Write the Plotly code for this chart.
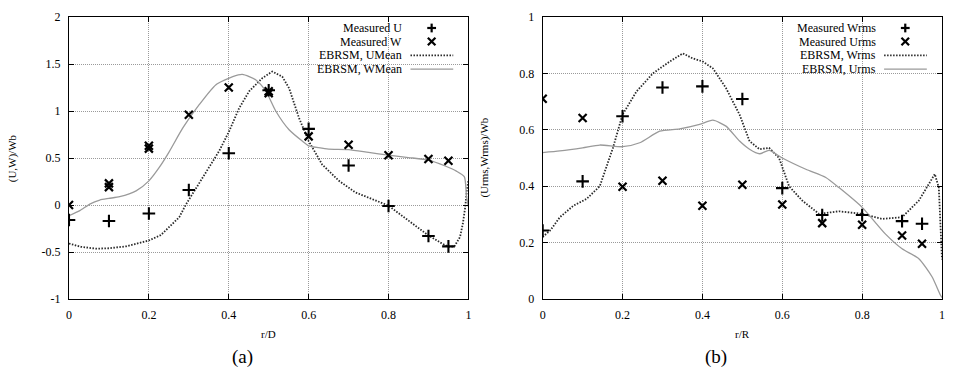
import plotly.graph_objects as go

# ---------------- data: panel (a) ----------------
meas_x = [0, 0.1, 0.2, 0.3, 0.4, 0.5, 0.6, 0.7, 0.8, 0.9, 0.95]
meas_u = [-0.16, -0.17, -0.09, 0.16, 0.55, 1.22, 0.81, 0.42, -0.01, -0.33, -0.44]
meas_w_x = [0, 0.1, 0.1, 0.2, 0.2, 0.3, 0.4, 0.5, 0.5, 0.6, 0.7, 0.8, 0.9, 0.95]
meas_w = [0.0, 0.23, 0.19, 0.63, 0.60, 0.96, 1.25, 1.21, 1.19, 0.73, 0.64, 0.53, 0.49, 0.47]

umean_x = [0, 0.03, 0.068, 0.1, 0.143, 0.2, 0.23, 0.251, 0.276, 0.293, 0.326, 0.351, 0.376,
           0.401, 0.426, 0.451, 0.484, 0.509, 0.534, 0.551, 0.576, 0.6, 0.634, 0.676, 0.717,
           0.759, 0.8, 0.85, 0.9, 0.93, 0.95, 0.965, 0.979, 0.986, 0.992, 0.996, 1.0]
umean_y = [-0.41, -0.445, -0.465, -0.46, -0.44, -0.377, -0.32, -0.236, -0.13, 0.007, 0.236,
           0.41, 0.574, 0.785, 1.03, 1.21, 1.35, 1.42, 1.366, 1.243, 0.925, 0.68, 0.43, 0.257,
           0.134, 0.063, -0.007, -0.166, -0.324, -0.40, -0.445, -0.44, -0.34, -0.2, -0.025, 0.15, 0.26]

wmean_x = [0, 0.027, 0.052, 0.077, 0.1, 0.127, 0.168, 0.2, 0.226, 0.25, 0.285, 0.326, 0.368,
           0.41, 0.434, 0.468, 0.493, 0.518, 0.551, 0.584, 0.6, 0.625, 0.65, 0.7, 0.75, 0.8,
           0.85, 0.9, 0.942, 0.97, 0.99, 0.995, 1.0]
wmean_y = [-0.113, -0.06, 0.01, 0.053, 0.07, 0.088, 0.15, 0.257, 0.40, 0.56, 0.82, 1.067, 1.28,
           1.366, 1.39, 1.33, 1.21, 0.997, 0.80, 0.68, 0.63, 0.61, 0.595, 0.59, 0.56, 0.53,
           0.505, 0.478, 0.415, 0.36, 0.30, 0.1, -0.02]

# ---------------- data: panel (b) ----------------
rms_x = [0, 0.1, 0.2, 0.3, 0.4, 0.5, 0.6, 0.7, 0.8, 0.9, 0.95]
meas_wrms = [0.243, 0.417, 0.648, 0.75, 0.754, 0.709, 0.393, 0.298, 0.298, 0.276, 0.267]
meas_urms = [0.71, 0.642, 0.398, 0.419, 0.331, 0.405, 0.335, 0.269, 0.263, 0.225, 0.196]

wrms_x = [0, 0.02, 0.043, 0.077, 0.11, 0.143, 0.176, 0.2, 0.235, 0.276, 0.318, 0.351, 0.376,
          0.401, 0.426, 0.459, 0.493, 0.518, 0.543, 0.567, 0.592, 0.617, 0.65, 0.692, 0.742,
          0.8, 0.85, 0.9, 0.942, 0.967, 0.982, 0.992, 0.997, 1.0]
wrms_y = [0.22, 0.245, 0.29, 0.331, 0.355, 0.40, 0.536, 0.654, 0.736, 0.80, 0.842, 0.871, 0.853,
          0.842, 0.818, 0.748, 0.654, 0.56, 0.531, 0.536, 0.50, 0.40, 0.349, 0.302, 0.311,
          0.302, 0.284, 0.29, 0.349, 0.407, 0.443, 0.395, 0.25, 0.14]

urms_x = [0, 0.043, 0.1, 0.143, 0.2, 0.243, 0.293, 0.343, 0.393, 0.426, 0.459, 0.493, 0.518,
          0.543, 0.567, 0.6, 0.659, 0.709, 0.742, 0.8, 0.858, 0.9, 0.942, 0.975, 0.996, 1.0]
urms_y = [0.519, 0.525, 0.536, 0.546, 0.54, 0.554, 0.595, 0.603, 0.619, 0.634, 0.613, 0.56,
          0.531, 0.515, 0.527, 0.50, 0.46, 0.431, 0.395, 0.325, 0.231, 0.178, 0.143, 0.079,
          0.014, 0.005]

x_ticks = [0, 0.2, 0.4, 0.6, 0.8, 1]
x_ticktext = ["0", "0.2", "0.4", "0.6", "0.8", "1"]
ya_ticks = [-1, -0.5, 0, 0.5, 1, 1.5, 2]
ya_ticktext = ["-1", "-0.5", "0", "0.5", "1", "1.5", "2"]
yb_ticks = [0, 0.2, 0.4, 0.6, 0.8, 1]
yb_ticktext = ["0", "0.2", "0.4", "0.6", "0.8", "1"]

legend_a = ["Measured U", "Measured W", "EBRSM, UMean", "EBRSM, WMean"]
legend_b = ["Measured Wrms", "Measured Urms", "EBRSM, Wrms", "EBRSM, Urms"]

FONT = "Liberation Serif, Times New Roman, serif"
DOT_COLOR = "#2a2a2a"
GRAY = "#9a9a9a"

fig = go.Figure()

def add_panel(xa, ya, mx1, my1, mx2, my2, cx1, cy1, cx2, cy2):
    fig.add_trace(go.Scatter(x=cx1, y=cy1, mode="lines", xaxis=xa, yaxis=ya,
                             line=dict(color=DOT_COLOR, width=1.8, dash="1.5px,1.5px"),
                             showlegend=False, hoverinfo="skip"))
    fig.add_trace(go.Scatter(x=cx2, y=cy2, mode="lines", xaxis=xa, yaxis=ya,
                             line=dict(color=GRAY, width=1.3, shape="spline", smoothing=0.6),
                             showlegend=False, hoverinfo="skip"))
    fig.add_trace(go.Scatter(x=mx1, y=my1, mode="markers", xaxis=xa, yaxis=ya,
                             marker=dict(symbol="cross-thin", size=9,
                                         line=dict(color="black", width=2.1)),
                             showlegend=False))
    fig.add_trace(go.Scatter(x=mx2, y=my2, mode="markers", xaxis=xa, yaxis=ya,
                             marker=dict(symbol="x-thin", size=8,
                                         line=dict(color="black", width=2.2)),
                             showlegend=False))

add_panel("x", "y", meas_x, meas_u, meas_w_x, meas_w, umean_x, umean_y, wmean_x, wmean_y)
add_panel("x2", "y2", rms_x, meas_wrms, rms_x, meas_urms, wrms_x, wrms_y, urms_x, urms_y)

axis_common = dict(showline=True, linecolor="black", linewidth=1.3, mirror="ticks",
                   ticks="inside", ticklen=5, tickcolor="black", tickwidth=1,
                   showgrid=True, gridcolor="#9a9a9a", gridwidth=1, griddash="1px,1px",
                   zeroline=False, tickfont=dict(family=FONT, size=12, color="black"))

fig.update_layout(
    width=955, height=371,
    margin=dict(l=69, r=10, t=15, b=72),
    paper_bgcolor="white", plot_bgcolor="white",
    font=dict(family=FONT, color="black"),
    xaxis=dict(domain=[0, 0.4575], range=[0, 1], tickvals=x_ticks, ticktext=x_ticktext,
               ticklabelstandoff=4, **axis_common),
    yaxis=dict(domain=[0, 1], range=[-1, 2], tickvals=ya_ticks, ticktext=ya_ticktext,
               ticklabelstandoff=5, **axis_common),
    xaxis2=dict(domain=[0.5426, 1], range=[0, 1], tickvals=x_ticks, ticktext=x_ticktext,
                anchor="y2", ticklabelstandoff=4, **axis_common),
    yaxis2=dict(domain=[0, 1], range=[0, 1], tickvals=yb_ticks, ticktext=yb_ticktext,
                anchor="x2", ticklabelstandoff=5, **axis_common),
)

annotations = []
shapes = []

def panel_texts(xs, ys, xtitle, ytitle, tag, ytitle_x, labels):
    xd = xs + " domain"
    yd = ys + " domain"
    annotations.append(dict(text=xtitle, xref=xd, yref=yd, x=0.5, y=-0.123, showarrow=False,
                            xanchor="center", yanchor="middle",
                            font=dict(family=FONT, size=11, color="black")))
    annotations.append(dict(text=ytitle, xref=xd, yref=yd, x=ytitle_x, y=0.5, showarrow=False,
                            textangle=-90, xanchor="center", yanchor="middle",
                            font=dict(family=FONT, size=11, color="black")))
    annotations.append(dict(text=tag, xref=xd, yref=yd, x=0.4335, y=-0.205, showarrow=False,
                            xanchor="center", yanchor="middle",
                            font=dict(family=FONT, size=19, color="black")))
    rows = [0.961, 0.913, 0.864, 0.815]
    for lab, ry in zip(labels, rows):
        annotations.append(dict(text=lab, xref=xd, yref=yd, x=0.840, y=ry, showarrow=False,
                                xanchor="right", yanchor="middle",
                                font=dict(family=FONT, size=12, color="black")))
    sx = 0.908
    hx, hy = 0.011, 0.0155
    shapes.append(dict(type="line", xref=xd, yref=yd, x0=sx - hx, x1=sx + hx, y0=rows[0], y1=rows[0],
                       line=dict(color="black", width=2.2)))
    shapes.append(dict(type="line", xref=xd, yref=yd, x0=sx, x1=sx, y0=rows[0] - hy, y1=rows[0] + hy,
                       line=dict(color="black", width=2.2)))
    cx, cy = 0.0095, 0.0134
    shapes.append(dict(type="line", xref=xd, yref=yd, x0=sx - cx, x1=sx + cx, y0=rows[1] - cy, y1=rows[1] + cy,
                       line=dict(color="black", width=2.2)))
    shapes.append(dict(type="line", xref=xd, yref=yd, x0=sx - cx, x1=sx + cx, y0=rows[1] + cy, y1=rows[1] - cy,
                       line=dict(color="black", width=2.2)))
    shapes.append(dict(type="line", xref=xd, yref=yd, x0=0.855, x1=0.962, y0=rows[2], y1=rows[2],
                       line=dict(color=DOT_COLOR, width=1.8, dash="1.5px,1.5px")))
    shapes.append(dict(type="line", xref=xd, yref=yd, x0=0.855, x1=0.962, y0=rows[3], y1=rows[3],
                       line=dict(color=GRAY, width=1.3)))

panel_texts("x", "y", "r/D", "(U,W)/Wb", "(a)", -0.142, legend_a)
panel_texts("x2", "y2", "r/R", "(Urms,Wrms)/Wb", "(b)", -0.148, legend_b)

fig.update_layout(annotations=annotations, shapes=shapes)

fig.write_html("out.html")
